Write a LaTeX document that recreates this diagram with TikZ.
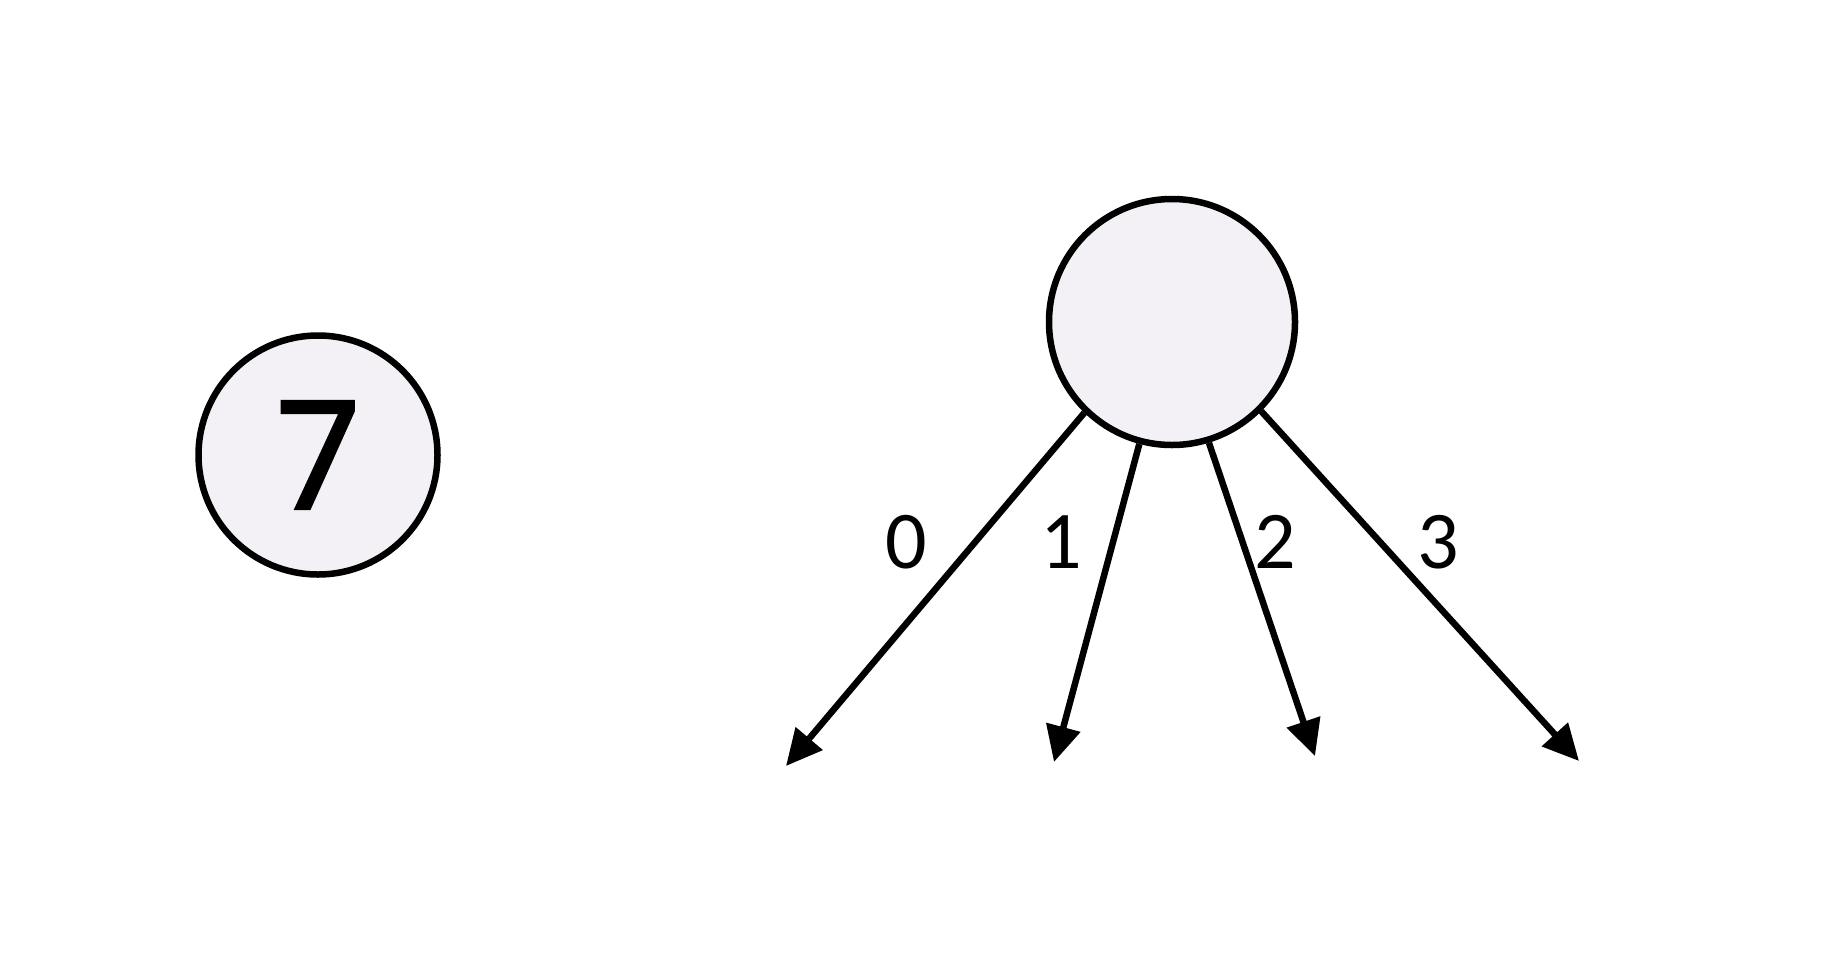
\documentclass[tikz,border=0pt]{standalone}
\usepackage{fontspec}
\newfontfamily\digitfont{Carlito}
\newfontfamily\bigfont{Open Sans}[FakeBold=2]
\usetikzlibrary{arrows.meta}
\definecolor{nodefill}{RGB}{243,241,246}
\begin{document}
\begin{tikzpicture}[x=1pt,y=-1pt,
  vertex/.style={circle, draw=black, fill=nodefill, line width=6.5pt, inner sep=0pt},
  edge/.style={line width=6.5pt, -{Triangle[length=36pt,width=34pt]}},
  lbl/.style={inner sep=0pt, font=\digitfont\fontsize{82}{82}\selectfont}]
\useasboundingbox (0,0) rectangle (1833,972);
\node[vertex, minimum size=239pt, font=\bigfont\fontsize{150}{150}\selectfont] (seven) at (318,455) {7};
\node[vertex, minimum size=246pt] (root) at (1172,322) {};
\coordinate (e0) at (786,766);
\coordinate (e1) at (1054,762);
\coordinate (e2) at (1315,756);
\coordinate (e3) at (1579,761);
\draw[edge] (root.226) -- (e0);
\draw[edge] (root.255) -- (e1);
\draw[edge] (root.287) -- (e2);
\draw[edge] (root.315) -- (e3);
\node[lbl] (l0) at (906,542) {0};
\node[lbl] (l1) at (1061,542) {1};
\node[lbl] (l2) at (1275,542) {2};
\node[lbl] (l3) at (1438,542) {3};
\end{tikzpicture}
\end{document}
